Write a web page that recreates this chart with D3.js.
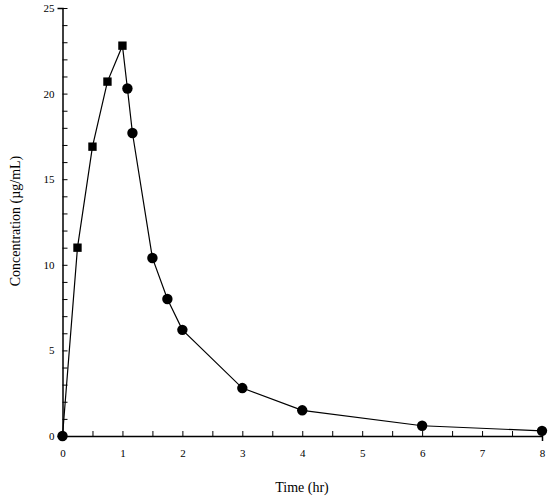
<!DOCTYPE html><html><head><script src="https://cdn.jsdelivr.net/npm/d3@7"></script>
<style>body{margin:0;background:#fff}text{font-family:"Liberation Serif",serif}</style></head><body><svg id="c" width="560" height="497"></svg><script>
const times=[0,0.25,0.5,0.75,1,1.083,1.167,1.5,1.75,2,3,4,6,8];
const conc=[0,11,16.9,20.7,22.8,20.3,17.7,10.4,8.0,6.2,2.8,1.5,0.6,0.3];
const xTicks=[0,1,2,3,4,5,6,7,8];
const yTicks=[0,5,10,15,20,25];
const svg=d3.select("#c");
const x=d3.scaleLinear().domain([0,8]).range([62.5,542]);
const y=d3.scaleLinear().domain([0,25]).range([436,8]);
const ax=svg.append("g").attr("transform","translate(0,436)").call(d3.axisBottom(x).tickValues(d3.range(0,8.01,0.5)).tickSize(5).tickFormat(d=>xTicks.includes(d)?d:""));
const ay=svg.append("g").attr("transform","translate(62.5,0)").call(d3.axisLeft(y).tickValues(d3.range(0,25.01,1)).tickSize(5).tickFormat(d=>yTicks.includes(d)?d:""));
ax.selectAll(".tick line").attr("y1",-5).attr("y2",0);
ay.selectAll(".tick line").attr("x1",0).attr("x2",5);
[ax,ay].forEach(a=>{a.select(".domain").attr("stroke-width",1.5);a.selectAll("text").attr("font-size",11).attr("font-family","Liberation Serif");});
ax.selectAll("text").attr("dy","1.2em");
svg.append("path").datum(times.map((t,i)=>[t,conc[i]])).attr("fill","none").attr("stroke","#000").attr("stroke-width",1.2)
 .attr("d",d3.line().x(d=>x(d[0])).y(d=>y(d[1])));
svg.selectAll(".m").data(times).join("path").attr("transform",(t,i)=>`translate(${x(t)},${y(conc[i])})`)
 .attr("d",(t,i)=>d3.symbol().type(i>=1&&i<=4?d3.symbolSquare:d3.symbolCircle).size(i>=1&&i<=4?70:85)()).attr("fill","#000");
svg.append("text").attr("x",302).attr("y",492).attr("text-anchor","middle").attr("font-size",14).text("Time (hr)");
svg.append("text").attr("transform","translate(20,221) rotate(-90)").attr("text-anchor","middle").attr("font-size",14).text("Concentration (µg/mL)");
</script></body></html>
